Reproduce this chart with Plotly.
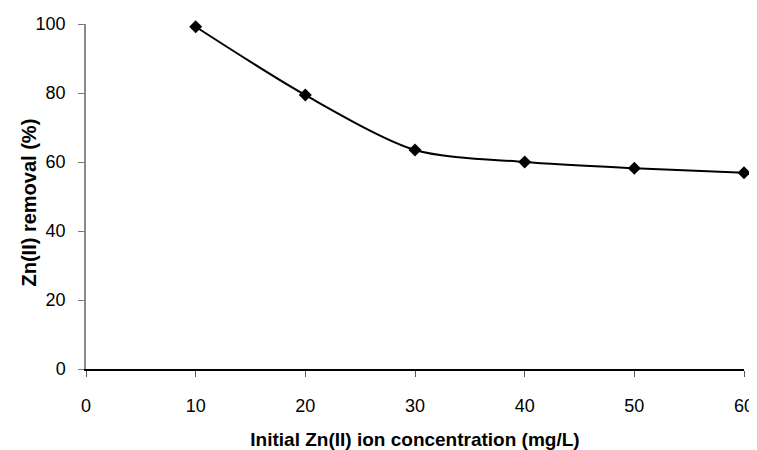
import plotly.graph_objects as go

concentration = [10, 20, 30, 40, 50, 60]
removal = [99.2, 79.4, 63.5, 60.0, 58.2, 56.9]
x_ticks = [0, 10, 20, 30, 40, 50, 60]
y_ticks = [0, 20, 40, 60, 80, 100]

fig = go.Figure()
fig.add_trace(go.Scatter(
    x=concentration, y=removal, mode="lines+markers",
    line=dict(color="black", width=2, shape="spline", smoothing=0.8),
    marker=dict(symbol="diamond", size=10, color="black"),
    showlegend=False, cliponaxis=False,
))

font_family = "Liberation Sans, Arial, sans-serif"
# the page body has an 8px margin, so the figure is sized to fit the window
fig.update_layout(
    width=749, height=442,
    margin=dict(l=78, r=13, t=16, b=81, autoexpand=False),
    paper_bgcolor="white", plot_bgcolor="white",
    font=dict(family=font_family, size=18, color="black"),
)
fig.update_xaxes(
    range=[0, 60], tickvals=x_ticks, ticks="outside", ticklen=6, tickcolor="#555",
    showline=True, linecolor="black", linewidth=1.5, showgrid=False, zeroline=False,
    ticklabelstandoff=14, automargin=False,
    title=dict(text="<b>Initial Zn(II) ion concentration (mg/L)</b>", standoff=17,
               font=dict(size=19)),
)
fig.update_yaxes(
    range=[0, 100], tickvals=y_ticks, ticks="outside", ticklen=6, tickcolor="#777",
    showline=True, linecolor="#888", linewidth=1.5, showgrid=False, zeroline=False,
    ticklabelstandoff=9, automargin=False,
)
fig.add_annotation(
    text="<b>Zn(II) removal (%)</b>", textangle=-90, showarrow=False,
    xref="paper", yref="paper", x=0, y=0.5, xanchor="center", yanchor="middle",
    xshift=-58, yshift=-6, font=dict(size=20),
)
fig.write_html("out.html")
